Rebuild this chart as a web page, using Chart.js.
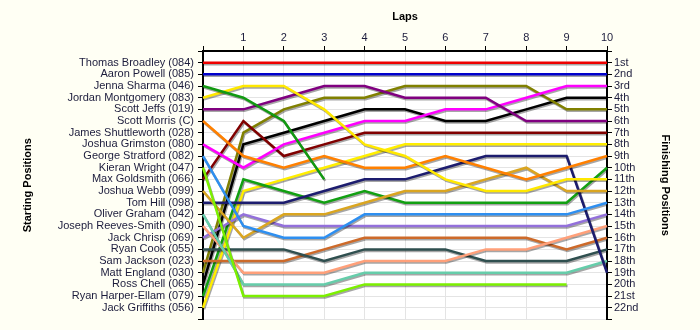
<!DOCTYPE html>
<html lang="en">
<head>
<meta charset="UTF-8">
<title>Lap Chart</title>
<script src="https://cdn.jsdelivr.net/npm/chart.js@4.4.1/dist/chart.umd.min.js"></script>
<style>
  body { margin: 0; background: #fffff4; }
  canvas { display: block; }
</style>
</head>
<body>
<canvas id="lapChart" width="700" height="330"></canvas>
<script>
// laps 0..10 (lap 0 = grid)
const laps = ['', '1', '2', '3', '4', '5', '6', '7', '8', '9', '10'];

// drivers in starting order
const drivers = [
  'Thomas Broadley (084)', 'Aaron Powell (085)', 'Jenna Sharma (046)', 'Jordan Montgomery (083)',
  'Scott Jeffs (019)', 'Scott Morris (C)', 'James Shuttleworth (028)', 'Joshua Grimston (080)',
  'George Stratford (082)', 'Kieran Wright (047)', 'Max Goldsmith (066)', 'Joshua Webb (099)',
  'Tom Hill (098)', 'Oliver Graham (042)', 'Joseph Reeves-Smith (090)', 'Jack Chrisp (069)',
  'Ryan Cook (055)', 'Sam Jackson (023)', 'Matt England (030)', 'Ross Chell (065)',
  'Ryan Harper-Ellam (079)', 'Jack Griffiths (056)'
];

const finishLabels = ['1st', '2nd', '3rd', '4th', '5th', '6th', '7th', '8th', '9th', '10th', '11th',
  '12th', '13th', '14th', '15th', '16th', '17th', '18th', '19th', '20th', '21st', '22nd'];

const lineColors = [
  '#ee0000', '#0000cc', '#119911', '#ffe800', '#800080', '#ff8000', '#ffffff', '#ff00ff',
  '#2e8ff0', '#7cf000', '#800000', '#daa520', '#1c1c6e', '#66cdaa', '#ffa07a', '#9370db',
  '#2f4f4f', '#cd6a2a', '#808000', '#000000', '#12a012', '#ffee00'
];

// position of each driver at the end of every lap (null = out)
const thomasBroadley   = [1, 1, 1, 1, 1, 1, 1, 1, 1, 1, 1];
const aaronPowell      = [2, 2, 2, 2, 2, 2, 2, 2, 2, 2, 2];
const jennaSharma      = [3, 4, 6, 11, null, null, null, null, null, null, null];
const jordanMontgomery = [4, 3, 3, 5, 8, 9, 11, 12, 12, 11, 11];
const scottJeffs       = [5, 5, 4, 3, 3, 4, 4, 4, 6, 6, 6];
const scottMorris      = [6, 9, 10, 9, 10, 10, 9, 10, 11, 10, 9];
const jamesShuttleworth = [7, null, null, null, null, null, null, null, null, null, null];
const joshuaGrimston   = [8, 10, 8, 7, 6, 6, 5, 5, 4, 3, 3];
const georgeStratford  = [9, 15, 16, 16, 14, 14, 14, 14, 14, 14, 13];
const kieranWright     = [10, 21, 21, 21, 20, 20, 20, 20, 20, 20, null];
const maxGoldsmith     = [11, 6, 9, 8, 7, 7, 7, 7, 7, 7, 7];
const joshuaWebb       = [12, 16, 14, 14, 13, 12, 12, 11, 10, 12, 12];
const tomHill          = [13, 13, 13, 12, 11, 11, 10, 9, 9, 9, 19];
const oliverGraham     = [14, 20, 20, 20, 19, 19, 19, 19, 19, 19, 18];
const josephReevesSmith = [15, 19, 19, 19, 18, 18, 18, 17, 17, 16, 15];
const jackChrisp       = [16, 14, 15, 15, 15, 15, 15, 15, 15, 15, 14];
const ryanCook         = [17, 17, 17, 18, 17, 17, 17, 18, 18, 18, 17];
const samJackson       = [18, 18, 18, 17, 16, 16, 16, 16, 16, 17, 16];
const mattEngland      = [19, 7, 5, 4, 4, 3, 3, 3, 3, 5, 5];
const rossChell        = [20, 8, 7, 6, 5, 5, 6, 6, 5, 4, 4];
const ryanHarperEllam  = [21, 11, 12, 13, 12, 13, 13, 13, 13, 13, 10];
const jackGriffiths    = [22, 12, 11, 10, 9, 8, 8, 8, 8, 8, 8];

const positions = [
  thomasBroadley, aaronPowell, jennaSharma, jordanMontgomery, scottJeffs, scottMorris,
  jamesShuttleworth, joshuaGrimston, georgeStratford, kieranWright, maxGoldsmith, joshuaWebb,
  tomHill, oliverGraham, josephReevesSmith, jackChrisp, ryanCook, samJackson, mattEngland,
  rossChell, ryanHarperEllam, jackGriffiths
];

Chart.defaults.font.family = '"Liberation Sans", Arial, sans-serif';
Chart.defaults.font.size = 11;

// cream page, white plotting area
const plotBackground = {
  id: 'plotBackground',
  beforeDraw(chart) {
    const { ctx, chartArea: a } = chart;
    ctx.save();
    ctx.fillStyle = '#fffff4';
    ctx.fillRect(0, 0, chart.width, chart.height);
    ctx.fillStyle = '#ffffff';
    ctx.fillRect(a.left, a.top, a.right - a.left, a.bottom - a.top);
    ctx.restore();
  }
};

// little grey drop shadow under every line
const lineShadow = {
  id: 'lineShadow',
  beforeDatasetDraw(chart) {
    const ctx = chart.ctx;
    ctx.save();
    ctx.shadowColor = 'rgba(0,0,0,0.35)';
    ctx.shadowOffsetX = 1;
    ctx.shadowOffsetY = 1.5;
    ctx.shadowBlur = 0;
  },
  afterDatasetDraw(chart) {
    chart.ctx.restore();
  }
};

const labelColor = '#1c1c3c';

new Chart(document.getElementById('lapChart'), {
  type: 'line',
  data: {
    labels: laps,
    datasets: drivers.map((name, i) => ({
      label: name,
      data: positions[i],
      borderColor: lineColors[i],
      borderWidth: 2.5,
      pointRadius: 0,
      tension: 0,
      spanGaps: false,
      yAxisID: 'y'
    }))
  },
  options: {
    responsive: false,
    animation: false,
    layout: { padding: { left: 14, right: 22, top: 6, bottom: 10 } },
    plugins: { legend: { display: false }, tooltip: { enabled: false } },
    scales: {
      x: {
        position: 'top',
        offset: false,
        title: { display: true, text: 'Laps', color: '#000', font: { weight: 'bold' }, padding: { top: 4, bottom: 0 } },
        ticks: { color: labelColor, padding: 1, maxRotation: 0 },
        grid: { color: '#e4e4e4', tickColor: '#000', tickLength: 5 },
        border: { color: '#000', width: 2 },
        afterFit(scale) { scale.height = 45; }
      },
      y: {
        position: 'left',
        min: 0,
        max: 23,
        reverse: true,
        title: { display: true, text: 'Starting Positions', color: '#000', font: { weight: 'bold' }, padding: { top: 7, bottom: 0 } },
        ticks: {
          stepSize: 1,
          autoSkip: false,
          color: labelColor,
          padding: 4,
          callback: v => drivers[v - 1] || ''
        },
        grid: { color: '#e4e4e4', tickColor: '#000', tickLength: 5 },
        border: { color: '#000', width: 2 },
        afterFit(scale) { scale.width = 189; }
      },
      y2: {
        position: 'right',
        min: 0,
        max: 23,
        reverse: true,
        title: { display: true, text: 'Finishing Positions', color: '#000', font: { weight: 'bold' }, padding: { top: 6, bottom: 0 } },
        ticks: {
          stepSize: 1,
          autoSkip: false,
          color: labelColor,
          padding: 2,
          callback: v => finishLabels[v - 1] || ''
        },
        grid: { drawOnChartArea: false, tickColor: '#000', tickLength: 5 },
        border: { color: '#000', width: 2 },
        afterFit(scale) { scale.width = 71; }
      }
    }
  },
  plugins: [plotBackground, lineShadow]
});
</script>
</body>
</html>
